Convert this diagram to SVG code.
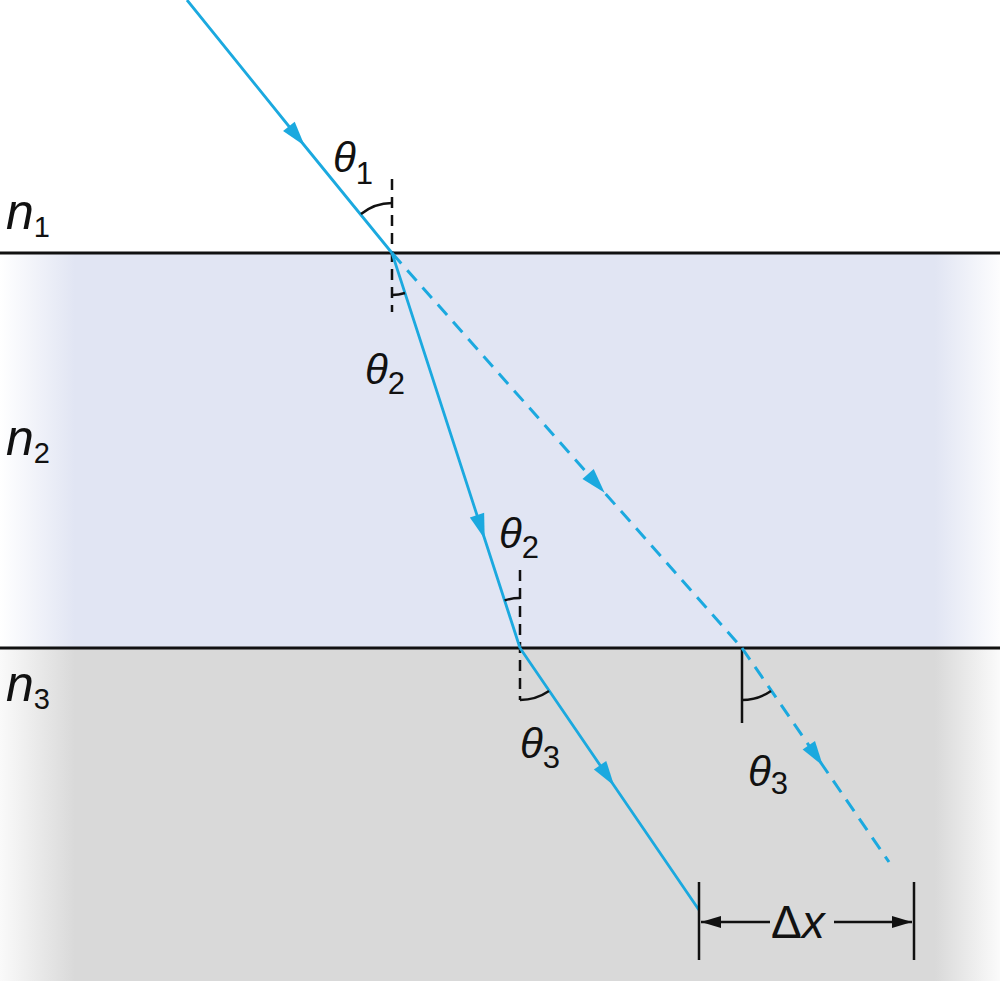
<svg xmlns="http://www.w3.org/2000/svg" width="1000" height="981" viewBox="0 0 1000 981">
<defs>
<linearGradient id="gBlue" x1="0" y1="0" x2="1" y2="0">
<stop offset="0" stop-color="#ffffff"/>
<stop offset="0.075" stop-color="#e1e5f3"/>
<stop offset="0.935" stop-color="#e1e5f3"/>
<stop offset="1" stop-color="#fdfdfe"/>
</linearGradient>
<linearGradient id="gGray" x1="0" y1="0" x2="1" y2="0">
<stop offset="0" stop-color="#fafafa"/>
<stop offset="0.075" stop-color="#d9d9d9"/>
<stop offset="0.935" stop-color="#d9d9d9"/>
<stop offset="1" stop-color="#fbfbfb"/>
</linearGradient>
<marker id="ab" markerUnits="userSpaceOnUse" markerWidth="30" markerHeight="20" refX="24" refY="0" viewBox="0 -10 30 20" orient="auto" overflow="visible">
<path d="M0,-7.5 L25,0 L0,7.5 z" fill="#1ba9df" stroke="none"/>
</marker>
<marker id="ak" markerUnits="userSpaceOnUse" markerWidth="24" markerHeight="16" refX="20" refY="0" viewBox="0 -8 24 16" orient="auto" overflow="visible">
<path d="M0,-6 L20,0 L0,6 z" fill="#111" stroke="none"/>
</marker>
</defs>
<style>
.ray{fill:none;stroke:#1ba9df;stroke-width:2.8;marker-mid:url(#ab)}
.dray{fill:none;stroke:#1ba9df;stroke-width:3;stroke-dasharray:14 9;marker-mid:url(#ab)}
.iface{stroke:#111;stroke-width:3}
.norm{stroke:#111;stroke-width:2.5;stroke-dasharray:11 7;fill:none}
.arc{fill:none;stroke:#111;stroke-width:2.5}
.bk{stroke:#111;stroke-width:2.5;fill:none}
.lab{font-family:"Liberation Sans",Arial,sans-serif;fill:#111}
.it{font-style:italic}
</style>
<g id="media">
<rect x="0" y="253" width="1000" height="395" fill="url(#gBlue)"/>
<rect x="0" y="648" width="1000" height="333" fill="url(#gGray)"/>
<line class="iface" x1="0" y1="253" x2="1000" y2="253"/>
<line class="iface" x1="0" y1="648" x2="1000" y2="648"/>
</g>
<g id="labels-n">
<text class="lab it" x="6" y="229" font-size="50">n<tspan font-style="normal" font-size="29" dy="8">1</tspan></text>
<text class="lab it" x="6" y="455" font-size="50">n<tspan font-style="normal" font-size="29" dy="8">2</tspan></text>
<text class="lab it" x="6" y="701" font-size="50">n<tspan font-style="normal" font-size="29" dy="8">3</tspan></text>
</g>
<g id="normals">
<line class="norm" x1="392" y1="179" x2="392" y2="312"/>
<line class="norm" x1="520" y1="570" x2="520" y2="700"/>
<line class="bk" x1="742" y1="648" x2="742" y2="723"/>
</g>
<g id="connectors">
<path class="ray" d="M187,0 L304,145 L392,253"/>
<path class="ray" d="M392,253 L484.4,538 L520,648"/>
<path class="ray" d="M520,648 L613.6,785 L699,910"/>
<path class="dray" d="M392,253 L604,492 L742,648"/>
<path class="dray" d="M742,648 L822.4,765 L889,862"/>
</g>
<g id="angles">
<path class="arc" d="M361,214 A50,50 0 0 1 392,203"/>
<path class="arc" d="M392,295 A42,42 0 0 0 405,293"/>
<path class="arc" d="M504.6,600.4 A50,50 0 0 1 520,598"/>
<path class="arc" d="M520,700 A52,52 0 0 0 549,691"/>
<path class="arc" d="M742,700 A52,52 0 0 0 771,691"/>
</g>
<g id="labels-theta">
<text class="lab" x="333" y="172" font-size="42"><tspan class="it">θ</tspan><tspan font-size="31" dy="12">1</tspan></text>
<text class="lab" x="365" y="384" font-size="42"><tspan class="it">θ</tspan><tspan font-size="31" dy="10">2</tspan></text>
<text class="lab" x="499" y="548" font-size="42"><tspan class="it">θ</tspan><tspan font-size="31" dy="10">2</tspan></text>
<text class="lab" x="520" y="758" font-size="42"><tspan class="it">θ</tspan><tspan font-size="31" dy="10">3</tspan></text>
<text class="lab" x="748" y="786" font-size="42"><tspan class="it">θ</tspan><tspan font-size="31" dy="8">3</tspan></text>
</g>
<g id="delta-x">
<line class="bk" x1="699" y1="882" x2="699" y2="960"/>
<line class="bk" x1="914" y1="882" x2="914" y2="960"/>
<line class="bk" x1="770" y1="922" x2="701" y2="922" marker-end="url(#ak)"/>
<line class="bk" x1="834" y1="922" x2="912" y2="922" marker-end="url(#ak)"/>
<text class="lab" x="771" y="938" font-size="46">Δ<tspan class="it">x</tspan></text>
</g>
</svg>
